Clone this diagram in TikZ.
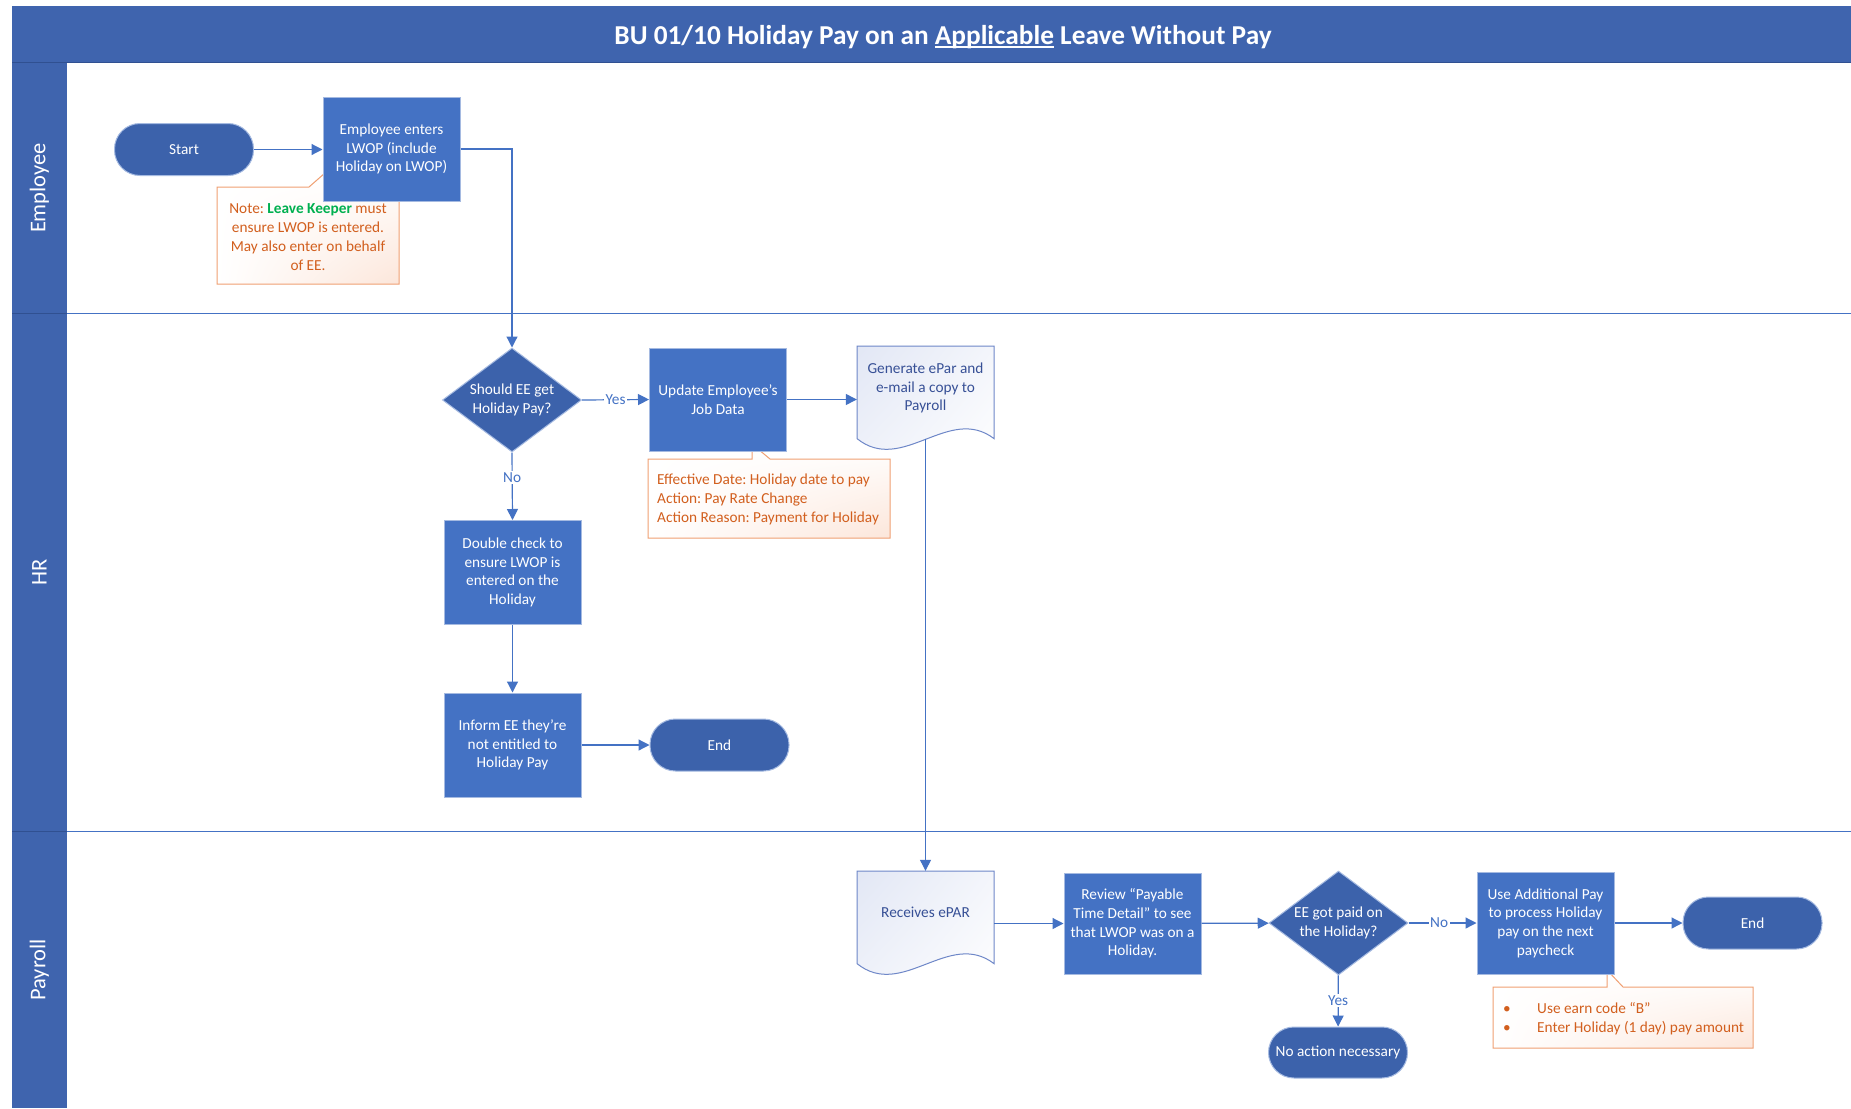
\documentclass[tikz,border=0pt]{standalone}
\usepackage{fontspec}
\setmainfont{Carlito}
\usetikzlibrary{arrows.meta,shapes.geometric,calc,shadings}
\definecolor{barblue}{RGB}{63,100,174}
\definecolor{barline}{RGB}{48,80,145}
\definecolor{procblue}{RGB}{68,114,196}
\definecolor{darkshape}{RGB}{60,98,171}
\definecolor{shapeedge}{RGB}{165,186,225}
\definecolor{linkblue}{RGB}{68,114,196}
\definecolor{docedge}{RGB}{110,135,200}
\definecolor{doctext}{RGB}{55,80,150}
\definecolor{docfill}{RGB}{226,231,245}
\definecolor{notetext}{RGB}{210,95,30}
\definecolor{noteedge}{RGB}{240,160,115}
\definecolor{notefill}{RGB}{252,230,218}
\definecolor{keepergreen}{RGB}{0,176,80}
\newcommand\ulapp[1]{\setbox0\hbox{#1}\rlap{\rule[-3.8pt]{\wd0}{1.8pt}}\box0\relax}
\frenchspacing
\begin{document}
\begin{tikzpicture}[x=1pt,y=-1pt,
  txt/.style={font=\fontsize{15.3}{18.7}\selectfont, align=center},
  proc/.style={txt, rectangle, fill=procblue, draw=shapeedge, line width=1pt, text=white, minimum width=137pt, minimum height=103pt, inner sep=2pt},
  term/.style={txt, rectangle, rounded corners=25.5pt, fill=darkshape, draw=shapeedge, line width=1pt, text=white, minimum width=139pt, minimum height=52pt, inner sep=2pt},
  decide/.style={txt, diamond, aspect=1.34, fill=darkshape, draw=shapeedge, line width=1pt, text=white, minimum width=139pt, minimum height=104pt, inner sep=0pt},
  doctxt/.style={txt, rectangle, text=doctext, minimum width=137pt, inner sep=0pt},
  docshape/.style={draw=docedge, line width=1pt, upper left=docfill, upper right=white!60!docfill, lower left=white!50!docfill, lower right=white},
  callout/.style={draw=noteedge, line width=1pt, upper left=white, upper right=white, lower left=white, lower right=notefill},
  notetxt/.style={font=\fontsize{15.3}{19}\selectfont, text=notetext, inner sep=0pt},
  flow/.style={draw=linkblue, line width=1.2pt, -{Triangle[length=11pt,width=11pt]}},
  lbl/.style={font=\fontsize{15.3}{18}\selectfont, text=linkblue, fill=white, inner sep=1.5pt},
  lane/.style={font=\fontsize{22.5}{26}\selectfont, text=white, rotate=90}
]
\useasboundingbox (0,0) rectangle (1851,1108);
\fill[white] (0,0) rectangle (1851,1108);

% title and lane bars
\fill[barblue] (12,6) rectangle (1851,63);
\fill[barblue] (12,63) rectangle (67,1108);
\draw[barline, line width=1pt] (12,63) -- (1851,63);
\node[font=\bfseries\fontsize{27.3}{31}\selectfont, text=white] (title) at (943,37) {BU 01/10 Holiday Pay on an \ulapp{Applicable} Leave Without Pay};

\draw[linkblue, line width=1pt] (67,313) -- (1851,313);
\draw[linkblue, line width=1pt] (67,831) -- (1851,831);
\draw[barline, line width=1pt] (12,313) -- (67,313);
\draw[barline, line width=1pt] (12,831) -- (67,831);
\node[lane] (lemp) at (39.5,188) {Employee};
\node[lane] (lhr) at (39.5,572) {HR};
\node[lane] (lpay) at (39.5,970) {Payroll};

% callouts (behind boxes)
\path[callout] (217,187) -- (309,187) -- (325,173) -- (336,187) -- (399,187) -- (399,284) -- (217,284) -- cycle;
\path[callout] (648,459) -- (752,459) -- (752,444) -- (770,459) -- (890,459) -- (890,538) -- (648,538) -- cycle;
\path[callout] (1493,987) -- (1607,987) -- (1607,970) -- (1623,987) -- (1753,987) -- (1753,1048) -- (1493,1048) -- cycle;

\node[notetxt, align=center] (note1) at (308,237) {Note: {\bfseries\color{keepergreen}Leave Keeper} must\\ensure LWOP is entered.\\May also enter on behalf\\of EE.};
\node[notetxt, align=left, anchor=west] (note2) at (657,499.5) {Effective Date: Holiday date to pay\\Action: Pay Rate Change\\Action Reason: Payment for Holiday};
\node[notetxt, align=left, anchor=west] (note3) at (1503,1018.5) {\makebox[34pt][l]{\textbullet}Use earn code “B”\\\makebox[34pt][l]{\textbullet}Enter Holiday (1 day) pay amount};

% document shapes
\path[docshape] (857,346) -- (994,346) -- (994,438.6) .. controls (948.8,404.2) and (902.2,475) .. (857,438.6) -- cycle;
\path[docshape] (857,871) -- (994,871) -- (994,963.6) .. controls (948.8,929.2) and (902.2,1000) .. (857,963.6) -- cycle;

% nodes
\node[term] (start) at (184,149.5) {Start};
\node[proc, minimum height=104pt] (emp) at (391.5,149) {Employee enters\\LWOP (include\\Holiday on LWOP)};
\node[decide] (d1) at (512,400) {Should EE get\\Holiday Pay?};
\node[proc] (upd) at (718,399.5) {Update Employee’s\\Job Data};
\node[doctxt, minimum height=84pt] (gen) at (925.5,388) {Generate ePar and\\e-mail a copy to\\Payroll};
\coordinate (genb) at (925.5,438.6);
\node[proc, minimum height=104pt] (dbl) at (512.5,572.5) {Double check to\\ensure LWOP is\\entered on the\\Holiday};
\node[proc, minimum height=104pt] (inf) at (512.5,745) {Inform EE they’re\\not entitled to\\Holiday Pay};
\node[term] (endhr) at (719.5,745) {End};

\node[doctxt, minimum height=82pt] (rec) at (925.5,912) {Receives ePAR};
\node[proc, minimum height=101pt] (rev) at (1132.5,923.5) {Review “Payable\\Time Detail” to see\\that LWOP was on a\\Holiday.};
\node[decide] (d2) at (1338.5,923) {EE got paid on\\the Holiday?};
\node[proc, minimum height=102pt] (addp) at (1545.5,923) {Use Additional Pay\\to process Holiday\\pay on the next\\paycheck};
\node[term] (endp) at (1752.5,923) {End};
\node[term, minimum height=51pt] (noact) at (1338,1052.5) {No action necessary};

% connectors
\draw[flow] (start.east) -- (start.east -| emp.west);
\draw[flow] (emp.east) -| (d1.north);
\draw[flow] (d1.east) -- node[lbl]{Yes} (upd.west);
\draw[flow] (upd.east) -- (upd.east -| gen.west);
\draw[flow] (d1.south) -- node[lbl, pos=0.37]{No} (dbl.north);
\draw[flow] (dbl) -- (inf);
\draw[flow] (inf) -- (endhr);
\draw[flow] (genb) -- (rec.north);
\draw[flow] (rev.west -| rec.east) -- (rev.west);
\draw[flow] (rev) -- (d2);
\draw[flow] (d2) -- node[lbl, pos=0.45]{No} (addp);
\draw[flow] (addp) -- (endp);
\draw[flow] (d2) -- node[lbl]{Yes} (noact);
\end{tikzpicture}
\end{document}
